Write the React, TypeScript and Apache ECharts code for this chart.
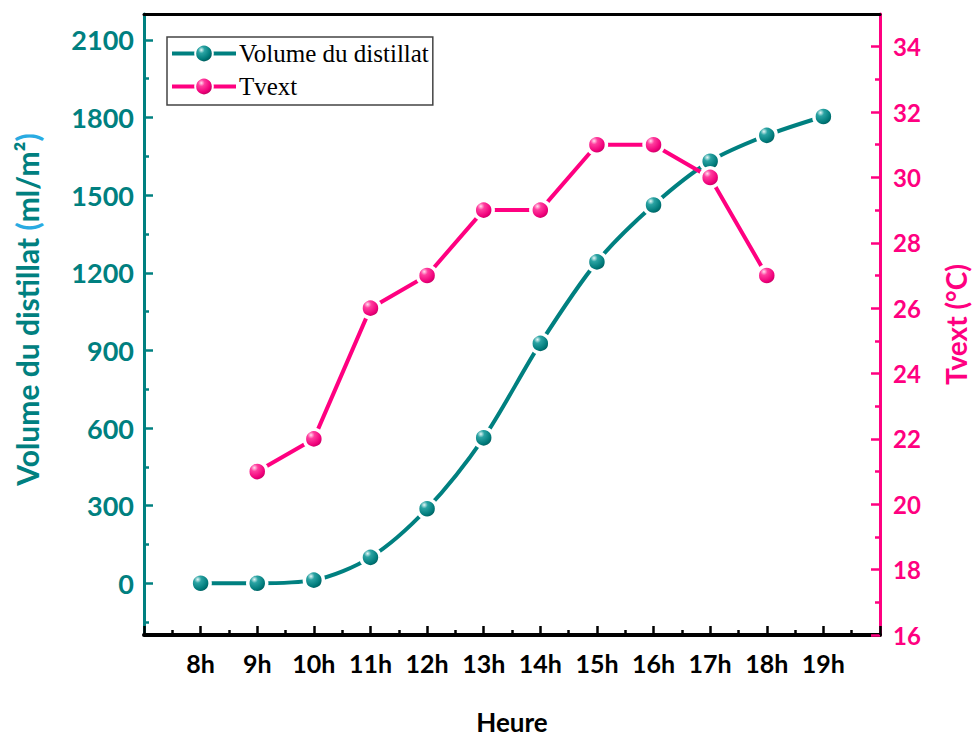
import React, { useEffect, useRef } from "react";
import * as echarts from "echarts";

const hours = [8, 9, 10, 11, 12, 13, 14, 15, 16, 17, 18, 19];
const volume = [0, 0, 12, 100, 288, 562, 927, 1242, 1462, 1631, 1731, 1804];
const tvextHours = [9, 10, 11, 12, 13, 14, 15, 16, 17, 18];
const tvext = [21, 22, 26, 27, 29, 29, 31, 31, 30, 27];
const volMajor = [0, 300, 600, 900, 1200, 1500, 1800, 2100];
const volMinor = [-150, 150, 450, 750, 1050, 1350, 1650, 1950];
const tMajor = [16, 18, 20, 22, 24, 26, 28, 30, 32, 34];
const tMinor = [17, 19, 21, 23, 25, 27, 29, 31, 33];

const TEAL = "#008080";
const PINK = "#FF0080";
const FONT = "Lato";

export default function App() {
  const ref = useRef<HTMLDivElement>(null);
  useEffect(() => {
    if (!ref.current) return;
    const chart = echarts.init(ref.current, undefined, { renderer: "svg" });
    const tealBall = new echarts.graphic.RadialGradient(0.35, 0.3, 0.75, [
      { offset: 0, color: "#e6f7f7" },
      { offset: 0.25, color: "#2aa3a3" },
      { offset: 0.7, color: "#007a7a" },
      { offset: 1, color: "#005050" },
    ]);
    const pinkBall = new echarts.graphic.RadialGradient(0.35, 0.3, 0.75, [
      { offset: 0, color: "#ffe0ef" },
      { offset: 0.25, color: "#ff3d9e" },
      { offset: 0.7, color: "#f0007a" },
      { offset: 1, color: "#b00058" },
    ]);
    chart.setOption({
      animation: false,
      backgroundColor: "#ffffff",
      grid: { left: 144, right: 93, top: 14, bottom: 103, outerBoundsMode: "none", containLabel: false },
      legend: {
        left: 167,
        top: 37,
        orient: "vertical",
        backgroundColor: "#ffffff",
        borderColor: "#444",
        borderWidth: 1.5,
        borderRadius: 0,
        padding: [4, 4, 6, 3],
        itemGap: 8,
        itemWidth: 64,
        itemHeight: 22,
        lineStyle: { width: 4 },
        textStyle: { fontFamily: "Liberation Serif", fontSize: 25, color: "#000", padding: [0, 0, 0, -2] },
        data: ["Volume du distillat", "Tvext"],
      },
      xAxis: [
        {
          type: "value",
          min: 7,
          max: 20,
          interval: 1,
          position: "bottom",
          name: "Heure",
          nameLocation: "middle",
          nameGap: 74,
          nameTextStyle: { fontFamily: FONT, fontWeight: "bold", fontSize: 26, color: "#000" },
          axisLine: { show: true, onZero: false, lineStyle: { color: "#000", width: 4 } },
          axisTick: { show: true, inside: true, length: 9, lineStyle: { color: "#000", width: 2.5 } },
          minorTick: { show: true, splitNumber: 2, length: 5, lineStyle: { color: "#000", width: 2.5 } },
          splitLine: { show: false },
          minorSplitLine: { show: false },
          axisLabel: {
            margin: 15,
            fontFamily: FONT,
            fontWeight: "bold",
            fontSize: 25,
            color: "#000",
            formatter: (v: number) => (hours.includes(v) ? `${v}h` : ""),
          },
        },
        {
          type: "value",
          min: 7,
          max: 20,
          position: "top",
          axisLine: { show: true, onZero: false, lineStyle: { color: "#000", width: 3 } },
          axisTick: { show: false },
          axisLabel: { show: false },
          splitLine: { show: false },
        },
      ],
      yAxis: [
        {
          type: "value",
          min: -200,
          max: 2200,
          position: "left",
          name: "{a|Volume du distillat }{b|(}{a|ml/m²}{b|)}",
          nameLocation: "middle",
          nameGap: 102,
          nameRotate: 90,
          nameTextStyle: {
            padding: [0, 0, 0, 30],
            rich: {
              a: { fontFamily: FONT, fontWeight: "bold", fontSize: 30, color: TEAL },
              b: { fontFamily: FONT, fontWeight: "bold", fontSize: 30, color: "#29abe2" },
            },
          },
          axisLine: { show: true, onZero: false, lineStyle: { color: TEAL, width: 3 } },
          axisTick: { show: true, inside: true, length: 9, customValues: volMajor, lineStyle: { color: TEAL, width: 2.5 } },
          axisLabel: {
            customValues: volMajor,
            margin: 10,
            fontFamily: FONT,
            fontWeight: "bold",
            fontSize: 27,
            color: TEAL,
            formatter: (v: number) => String(v),
          },
          splitLine: { show: false },
        },
        {
          type: "value",
          min: -200,
          max: 2200,
          position: "left",
          axisLine: { show: false },
          axisTick: { show: true, inside: true, length: 5, customValues: volMinor, lineStyle: { color: TEAL, width: 2.5 } },
          axisLabel: { show: false },
          splitLine: { show: false },
        },
        {
          type: "value",
          min: 16,
          max: 35,
          position: "right",
          name: "Tvext (°C)",
          nameLocation: "middle",
          nameGap: 62,
          nameRotate: 90,
          nameTextStyle: { fontFamily: FONT, fontWeight: "bold", fontSize: 28, color: PINK },
          axisLine: { show: true, onZero: false, lineStyle: { color: PINK, width: 3 } },
          axisTick: { show: true, inside: true, length: 9, customValues: tMajor, lineStyle: { color: PINK, width: 2.5 } },
          axisLabel: {
            customValues: tMajor,
            margin: 13,
            fontFamily: FONT,
            fontWeight: "bold",
            fontSize: 24,
            color: PINK,
            formatter: (v: number) => String(v),
          },
          splitLine: { show: false },
        },
        {
          type: "value",
          min: 16,
          max: 35,
          position: "right",
          axisLine: { show: false },
          axisTick: { show: true, inside: true, length: 5, customValues: tMinor, lineStyle: { color: PINK, width: 2.5 } },
          axisLabel: { show: false },
          splitLine: { show: false },
        },
      ],
      series: [
        {
          name: "Volume du distillat",
          type: "line",
          xAxisIndex: 0,
          yAxisIndex: 0,
          smooth: 0.3,
          data: hours.map((h, i) => [h, volume[i]]),
          symbol: "circle",
          symbolSize: 19,
          lineStyle: { color: TEAL, width: 4 },
          itemStyle: { color: tealBall, borderColor: "#ffffff", borderWidth: 3.5 },
        },
        {
          name: "Tvext",
          type: "line",
          xAxisIndex: 0,
          yAxisIndex: 2,
          data: tvextHours.map((h, i) => [h, tvext[i]]),
          symbol: "circle",
          symbolSize: 19,
          lineStyle: { color: PINK, width: 4 },
          itemStyle: { color: pinkBall, borderColor: "#ffffff", borderWidth: 3.5 },
        },
      ],
    });
    return () => chart.dispose();
  }, []);
  return <div ref={ref} style={{ width: 973, height: 738, position: "absolute", left: 0, top: 0 }} />;
}
